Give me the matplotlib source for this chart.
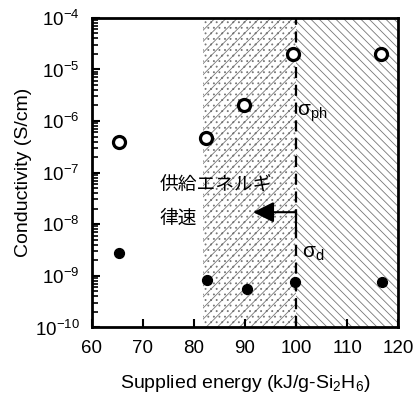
"""
Conductivity vs supplied energy (log scale) with hatched regions.
"""
import matplotlib
matplotlib.use("Agg")
import matplotlib.pyplot as plt
from matplotlib.ticker import LogLocator, FixedLocator, NullFormatter

plt.rcParams['font.family'] = ['Liberation Sans', 'Noto Sans CJK JP', 'DejaVu Sans']
plt.rcParams['mathtext.fontset'] = 'custom'
plt.rcParams['mathtext.rm'] = 'Liberation Sans'
plt.rcParams['hatch.linewidth'] = 0.6

# データ
energy_ph = [65.3, 82.3, 89.8, 99.4, 116.7]
sigma_ph = [3.9e-7, 4.7e-7, 2.0e-6, 2.0e-5, 2.0e-5]
energy_d = [65.3, 82.5, 90.3, 99.7, 116.9]
sigma_d = [2.7e-9, 8.2e-10, 5.6e-10, 7.4e-10, 7.6e-10]

region_start = 81.8
region_split = 100.0
x_ticks = [60, 70, 80, 90, 100, 110, 120]
y_exps = [-10, -9, -8, -7, -6, -5, -4]

fig = plt.figure(figsize=(4.16, 3.98), dpi=100)
ax = fig.add_axes([0.221, 0.178, 0.736, 0.777])

# 網掛け領域
ax.axvspan(region_start, region_split, facecolor='white', edgecolor='#777777',
           hatch='///...', linewidth=0, zorder=0)
ax.axvspan(region_split, 120, facecolor='white', edgecolor='#777777',
           hatch='\\\\\\\\', linewidth=0, zorder=0)
ax.axvline(region_split, color='black', linestyle=(0, (5, 3)), linewidth=1.6, zorder=2)

ax.scatter(energy_ph, sigma_ph, s=75, facecolor='white', edgecolor='black',
           linewidth=2.3, zorder=3)
ax.scatter(energy_d, sigma_d, s=50, color='black', zorder=3)

# 矢印
ax.annotate('', xy=(91.6, 1.7e-8), xytext=(100, 1.7e-8),
            arrowprops=dict(arrowstyle='-|>,head_length=0.9,head_width=0.45',
                            color='black', lw=1.5, mutation_scale=14,
                            shrinkA=0, shrinkB=0), zorder=4)
ax.plot([100, 100], [1.7e-8, 6e-9], color='black', lw=1.5, zorder=4)

ax.text(100.2, 1.4e-6, 'σ$_{\\mathrm{ph}}$', fontsize=15, ha='left', va='center')
ax.text(101.2, 2.7e-9, 'σ$_{\\mathrm{d}}$', fontsize=15, ha='left', va='center')
ax.text(73.2, 5.7e-8, '供給エネルギ', fontsize=13.5, ha='left', va='center',
        family=['Noto Sans CJK JP', 'DejaVu Sans'])
ax.text(73.2, 1.3e-8, '律速', fontsize=13.5, ha='left', va='center',
        family=['Noto Sans CJK JP', 'DejaVu Sans'])

ax.set_yscale('log')
ax.set_xlim(60, 120)
ax.set_ylim(1e-10, 1e-4)
ax.xaxis.set_major_locator(FixedLocator(x_ticks))
ax.yaxis.set_major_locator(FixedLocator([10.0 ** e for e in y_exps]))
ax.set_yticklabels(['10$^{\\mathrm{-%d}}$' % -e for e in y_exps])
ax.yaxis.set_minor_locator(LogLocator(base=10, subs=range(2, 10), numticks=20))
ax.yaxis.set_minor_formatter(NullFormatter())

ax.tick_params(axis='both', direction='in', labelsize=13.5, width=1.5, length=6, pad=9)
ax.tick_params(axis='y', which='minor', direction='in', width=1.2, length=4)
ax.tick_params(axis='x', which='minor', bottom=False)
for s in ax.spines.values():
    s.set_linewidth(2)

ax.set_xlabel('Supplied energy (kJ/g-Si$_2$H$_6$)', fontsize=14, labelpad=12)
ax.set_ylabel('Conductivity (S/cm)', fontsize=14, labelpad=2)

fig.savefig('out.png', dpi=100)
